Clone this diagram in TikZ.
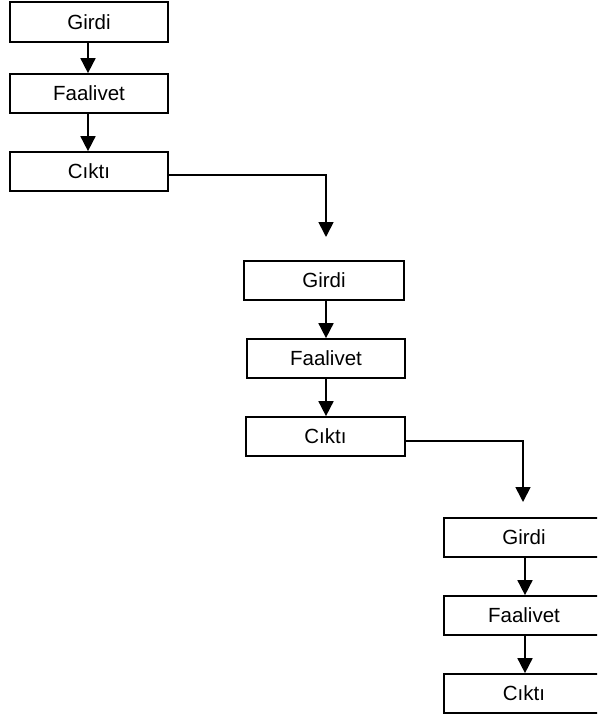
\documentclass[tikz,border=0pt]{standalone}
\usepackage{fontspec}
\setmainfont{Liberation Sans}
\usetikzlibrary{arrows.meta}

\tikzset{
  stage/.style={draw, line width=1.7pt, rectangle, inner sep=0pt,
                minimum height=39pt, font=\fontsize{20.5}{24}\selectfont},
  wide/.style={minimum width=158pt},
  flow/.style={line width=1.7pt, -{Triangle[width=15pt,length=15pt]}},
}

\begin{document}
\begin{tikzpicture}[x=1pt,y=-1pt]
  \useasboundingbox (0,0) rectangle (597,719);
  \clip (0,0) rectangle (597,719);

  % first chain
  \node[stage, wide, minimum height=40pt] (g1) at (89,22)    {Girdi};
  \node[stage, wide] (f1) at (89,93.5)  {Faalivet};
  \node[stage, wide] (c1) at (89,171.5) {Cıktı};

  % second chain
  \node[stage, minimum width=160pt] (g2) at (324,280.5)   {Girdi};
  \node[stage, wide]                (f2) at (326,358.5)   {Faalivet};
  \node[stage, minimum width=159pt] (c2) at (325.5,436.5) {Cıktı};

  % third chain, running off the right edge
  \node[stage, minimum width=160pt] (g3) at (524,537.5) {Girdi};
  \node[stage, minimum width=160pt] (f3) at (524,615.5) {Faalivet};
  \node[stage, minimum width=160pt] (c3) at (524,693.5) {Cıktı};

  % free ends of the links between chains
  \coordinate (t1) at (326,237);
  \coordinate (t2) at (523,502);

  \draw[flow] ([xshift=-1pt]g1.south) -- ([xshift=-1pt]f1.north);
  \draw[flow] ([xshift=-1pt]f1.south) -- ([xshift=-1pt]c1.north);
  \draw[flow] ([yshift=-3.5pt]c1.east) -| (t1);

  \draw[flow] ([xshift=2pt]g2.south) -- (f2.north);
  \draw[flow] (f2.south) -- ([xshift=0.5pt]c2.north);
  \draw[flow] ([yshift=-4.5pt]c2.east) -| (t2);

  \draw[flow] ([xshift=1pt]g3.south) -- ([xshift=1pt]f3.north);
  \draw[flow] ([xshift=1pt]f3.south) -- ([xshift=1pt]c3.north);
\end{tikzpicture}
\end{document}
